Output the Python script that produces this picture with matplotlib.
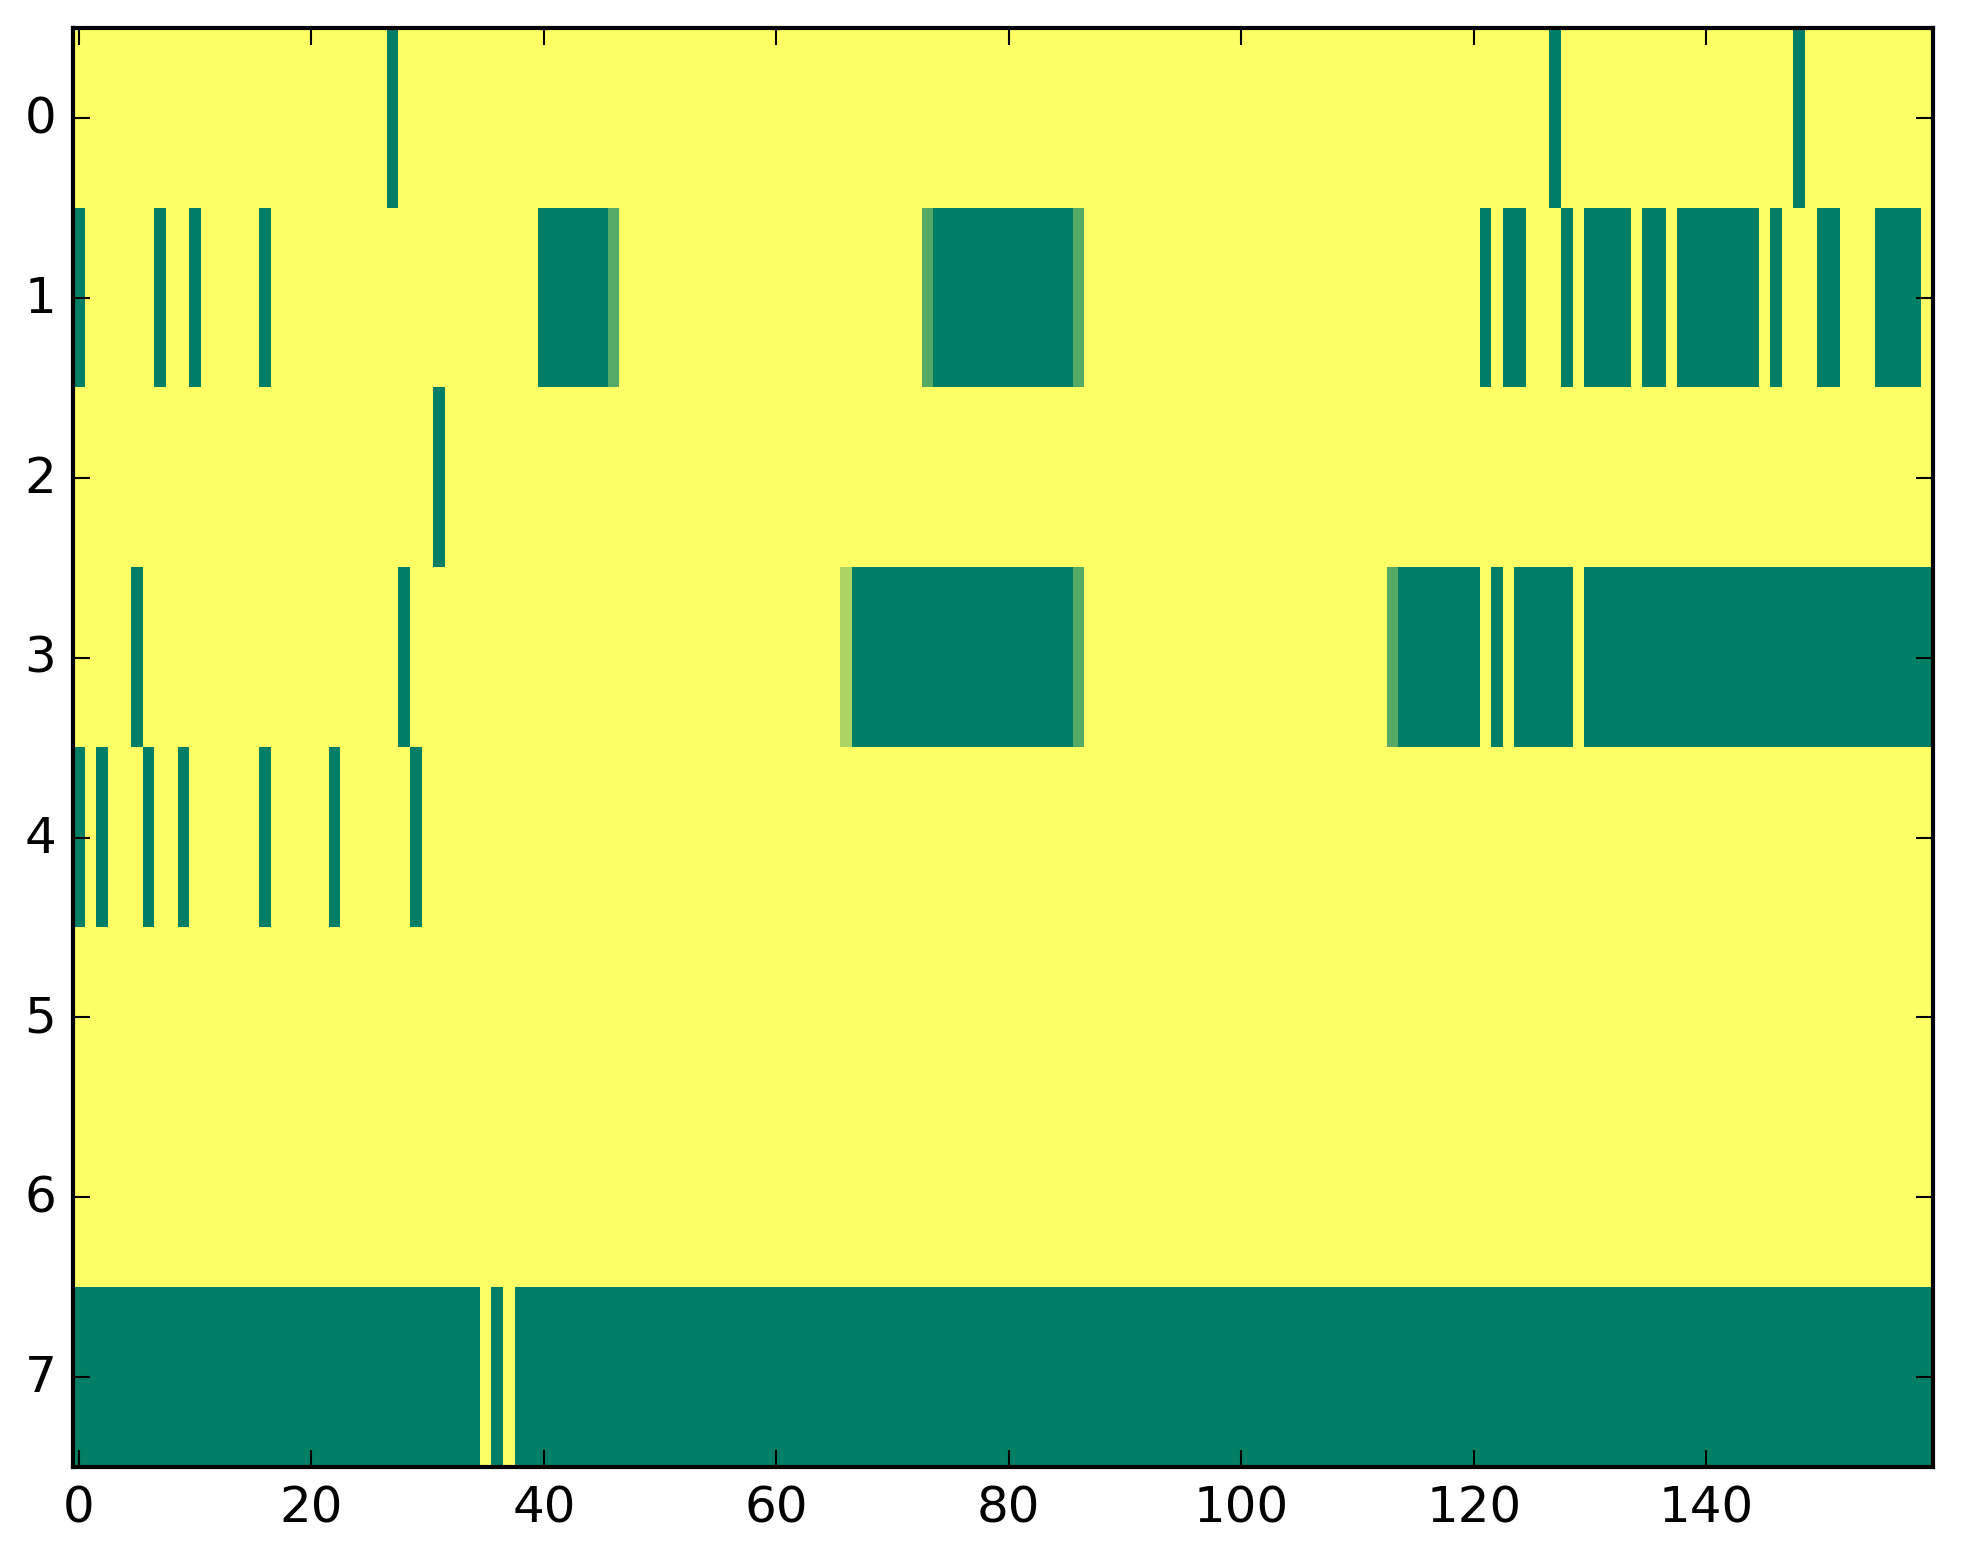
import numpy as np
import matplotlib
matplotlib.use("Agg")
import matplotlib.pyplot as plt

plt.style.use("classic")

n_rows = 8
n_cols = 160

# cells that are 0 (dark green), everything else is 1 (yellow)
row_zeros = {
    0: [27, 127, 148],
    1: [0, 7, 10, 16] + list(range(40, 46)) + list(range(74, 86))
       + [121, 123, 124, 128] + list(range(130, 134)) + [135, 136]
       + list(range(138, 145)) + [146, 150, 151] + list(range(155, 159)),
    2: [31],
    3: [5, 28] + list(range(67, 86)) + list(range(114, 121)) + [122]
       + list(range(124, 129)) + list(range(130, 160)),
    4: [0, 2, 6, 9, 16, 22, 29],
}
# in-between values (row, col, value)
partial_cells = [(1, 46, 1/3), (1, 73, 1/3), (1, 86, 1/3),
                 (3, 66, 2/3), (3, 86, 1/3), (3, 113, 1/3)]
# last row is mostly 0, only these are 1
row7_ones = [35, 37]

data = np.ones((n_rows, n_cols))
for r, cols in row_zeros.items():
    data[r, cols] = 0
for r, c, v in partial_cells:
    data[r, c] = v
data[7, :] = 0
data[7, row7_ones] = 1

fig = plt.figure(figsize=(1963 / 300, 1564 / 300), facecolor="white")
ax = fig.add_axes([0.0372, 0.0614, 0.9475, 0.9199])
ax.imshow(data, cmap="summer", aspect="auto", interpolation="nearest",
          vmin=0, vmax=1)
ax.set_xticks(range(0, 160, 20))
ax.set_yticks(range(0, 8))

fig.savefig("out.png", dpi=300, facecolor="white")
